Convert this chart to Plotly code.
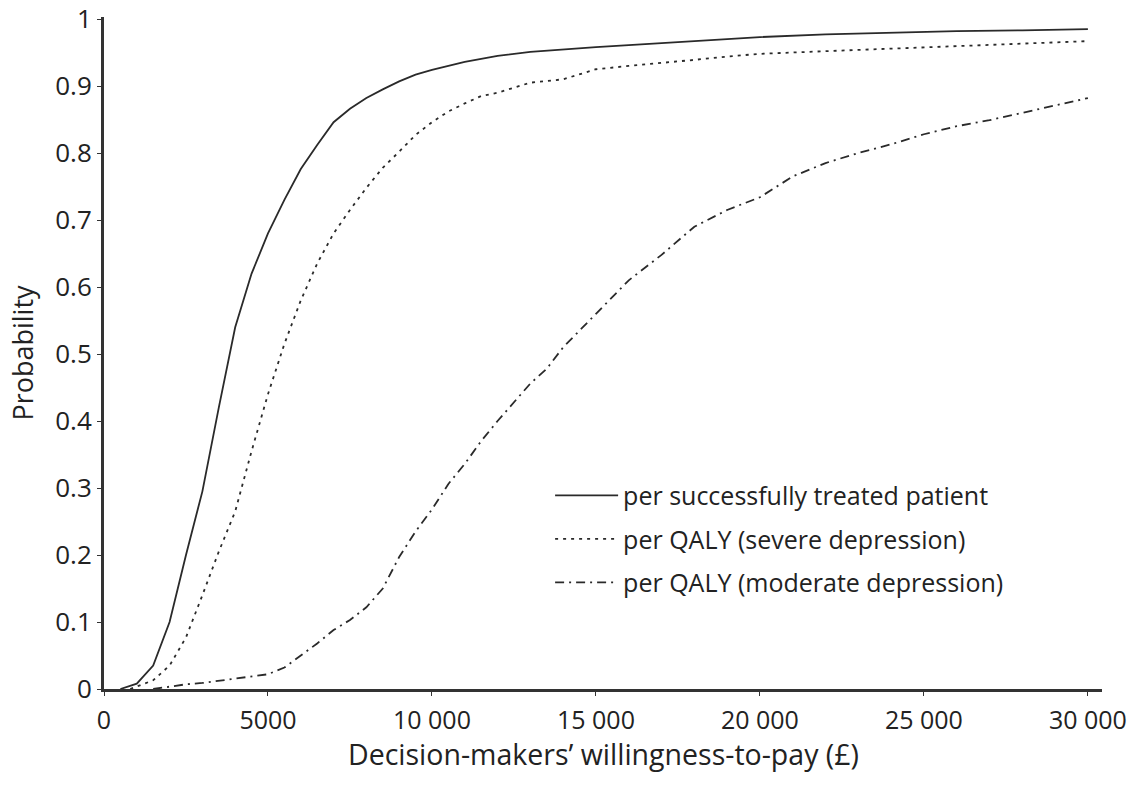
import plotly.graph_objects as go

# Per successfully treated patient
wtp_patient = [500, 1000, 1500, 2000, 2500, 3000, 3500, 4000, 4500, 5000, 5500, 6000, 6500, 7000,
               7500, 8000, 8500, 9000, 9500, 10000, 11000, 12000, 13000, 14000, 15000, 16000, 17000,
               18000, 19000, 20000, 22000, 24000, 26000, 28000, 30000]
prob_patient = [0.0, 0.008, 0.035, 0.10, 0.20, 0.295, 0.42, 0.54, 0.62, 0.68, 0.73, 0.776, 0.812,
                0.846, 0.866, 0.882, 0.895, 0.907, 0.917, 0.924, 0.936, 0.945, 0.951, 0.955, 0.958,
                0.961, 0.964, 0.967, 0.970, 0.973, 0.977, 0.980, 0.982, 0.983, 0.985]

# Per QALY (severe depression)
wtp_severe = [800, 1000, 1500, 2000, 2500, 3000, 3500, 4000, 4500, 5000, 5500, 6000, 6500, 7000,
              7500, 8000, 8500, 9000, 9500, 10000, 10500, 11000, 11500, 12000, 13000, 14000, 15000,
              16000, 17000, 18000, 19000, 20000, 22000, 24000, 26000, 28000, 30000]
prob_severe = [0.0, 0.004, 0.013, 0.035, 0.077, 0.14, 0.205, 0.265, 0.355, 0.44, 0.515, 0.58, 0.635,
               0.68, 0.715, 0.748, 0.778, 0.802, 0.827, 0.846, 0.862, 0.874, 0.885, 0.89, 0.905,
               0.91, 0.925, 0.93, 0.934, 0.939, 0.944, 0.948, 0.952, 0.956, 0.96, 0.964, 0.967]

# Per QALY (moderate depression)
wtp_moderate = [1500, 2000, 2500, 3000, 3500, 4000, 4500, 5000, 5500, 6000, 6500, 7000, 7500, 8000,
                8500, 9000, 9500, 10000, 10500, 11000, 11500, 12000, 12500, 13000, 13500, 14000,
                15000, 16000, 17000, 18000, 19000, 20000, 21000, 22000, 23000, 24000, 25000, 26000,
                27000, 28000, 29000, 30000]
prob_moderate = [0.0, 0.004, 0.007, 0.009, 0.012, 0.015, 0.018, 0.022, 0.032, 0.05, 0.068, 0.088,
                 0.103, 0.122, 0.15, 0.197, 0.235, 0.268, 0.306, 0.336, 0.37, 0.4, 0.428, 0.456,
                 0.478, 0.51, 0.56, 0.61, 0.648, 0.69, 0.715, 0.734, 0.765, 0.785, 0.8, 0.813,
                 0.828, 0.84, 0.849, 0.86, 0.87, 0.882]

x_ticks = [0, 5000, 10000, 15000, 20000, 25000, 30000]
x_tick_labels = ["0", "5000", "10 000", "15 000", "20 000", "25 000", "30 000"]
y_ticks = [0, 0.1, 0.2, 0.3, 0.4, 0.5, 0.6, 0.7, 0.8, 0.9, 1]
y_tick_labels = ["0", "0.1", "0.2", "0.3", "0.4", "0.5", "0.6", "0.7", "0.8", "0.9", "1"]

names = ["per successfully treated patient", "per QALY (severe depression)",
         "per QALY (moderate depression)"]
x_title = "Decision-makers\u2019 willingness-to-pay (\u00a3)"
y_title = "Probability"

FONT = "'Open Sans', Lato, sans-serif"
INK = "#2a2a2a"
TXT = "#222222"

fig = go.Figure()
fig.add_trace(go.Scatter(x=wtp_patient, y=prob_patient, mode="lines", name=names[0],
                         legendgroup="a",
                         line=dict(color=INK, width=1.8, dash="solid")))
fig.add_trace(go.Scatter(x=wtp_severe, y=prob_severe, mode="lines", name=names[1],
                         legendgroup="b",
                         line=dict(color=INK, width=1.8, dash="3px,5px")))
fig.add_trace(go.Scatter(x=wtp_moderate, y=prob_moderate, mode="lines", name=names[2],
                         legendgroup="c",
                         line=dict(color=INK, width=1.8, dash="9px,5px,2px,5px")))

fig.update_layout(
    width=1127, height=793,
    margin=dict(l=104, r=25, t=17, b=104, autoexpand=False),
    paper_bgcolor="white", plot_bgcolor="white",
    font=dict(family=FONT, size=25, color=TXT),
    showlegend=True,
    legend=dict(x=0.447, y=0.322, xanchor="left", yanchor="top",
                bgcolor="rgba(0,0,0,0)", font=dict(size=25, family=FONT, color=TXT),
                tracegroupgap=8, itemwidth=63),
    xaxis=dict(range=[0, 30430], tickmode="array", tickvals=x_ticks, ticktext=x_tick_labels,
               showgrid=False, zeroline=False, showline=True, linecolor="#333", linewidth=3,
               ticks="outside", ticklen=4, tickcolor="#333", tickwidth=1, automargin=False,
               ticklabelstandoff=3, ticklabeloverflow="allow",
               tickfont=dict(size=25, family=FONT, color=TXT)),
    yaxis=dict(range=[0, 1.003], tickmode="array", tickvals=y_ticks, ticktext=y_tick_labels,
               showgrid=False, zeroline=False, showline=True, linecolor="#333", linewidth=3,
               ticks="outside", ticklen=4, tickcolor="#333", tickwidth=1, automargin=False,
               tickfont=dict(size=26, family=FONT, color=TXT),
               title=dict(text=y_title, standoff=14,
                          font=dict(size=27, family=FONT, color=TXT))),
    annotations=[dict(text=x_title, xref="paper", yref="paper", x=0.5, y=-0.096,
                      xanchor="center", yanchor="middle", showarrow=False,
                      font=dict(size=28.5, family=FONT, color=TXT))],
)

fig.write_html("out.html", config={"displayModeBar": False},
               post_script="document.body.style.margin='0px';")
